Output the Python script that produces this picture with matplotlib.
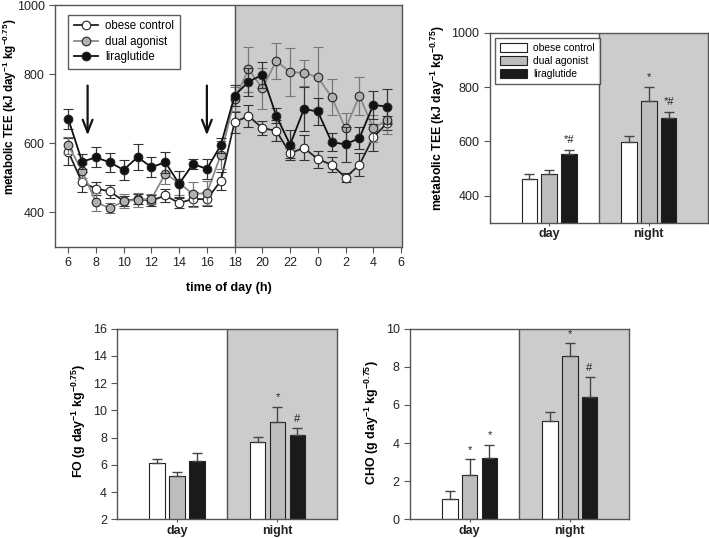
import matplotlib

matplotlib.use("Agg")

import matplotlib.pyplot as plt  # noqa: E402
import numpy as np  # noqa: E402
from matplotlib.lines import Line2D  # noqa: E402

plt.rcParams["font.family"] = ["Liberation Sans", "DejaVu Sans"]
plt.rcParams["mathtext.fontset"] = "custom"
plt.rcParams["mathtext.rm"] = "Liberation Sans:bold"
plt.rcParams["mathtext.default"] = "rm"

# ---------------------------------------------------------------------------
# Data
# ---------------------------------------------------------------------------

groups = ["obese control", "dual agonist", "liraglutide"]
hours = list(range(6, 30))  # 6 .. 29 (=5 next day)

tee_control = [576, 487, 469, 461, 433, 439, 434, 449, 427, 439, 438, 491,
               661, 679, 644, 636, 571, 587, 554, 538, 501, 538, 617, 659]
tee_control_err = [40, 29, 20, 18, 15, 15, 15, 20, 15, 20, 20, 25,
                   30, 31, 20, 30, 15, 36, 25, 22, 12, 34, 40, 20]
tee_dual = [594, 521, 430, 412, 432, 437, 439, 512, 485, 453, 456, 566,
            727, 814, 759, 838, 806, 804, 791, 733, 643, 737, 643, 668]
tee_dual_err = [25, 20, 25, 15, 20, 20, 15, 30, 35, 36, 34, 40,
                35, 65, 60, 51, 70, 38, 88, 52, 46, 54, 40, 40]
tee_lira = [671, 547, 559, 545, 523, 560, 531, 545, 483, 540, 526, 594,
            738, 778, 798, 680, 596, 699, 692, 603, 597, 615, 711, 706]
tee_lira_err = [29, 22, 29, 28, 29, 37, 28, 31, 38, 15, 29, 21,
                30, 40, 38, 21, 43, 63, 38, 26, 51, 32, 41, 51]

hour_ticks = [6, 8, 10, 12, 14, 16, 18, 20, 22, 24, 26, 28, 30]
hour_labels = ["6", "8", "10", "12", "14", "16", "18", "20", "22", "0", "2", "4", "6"]
arrow_hours = [7.4, 16]

periods = ["day", "night"]
tee_bar = {"obese control": [461, 597], "dual agonist": [478, 750], "liraglutide": [552, 685]}
tee_bar_err = {"obese control": [18, 21], "dual agonist": [18, 51], "liraglutide": [17, 24]}
tee_marks = {("liraglutide", 0): "*#", ("dual agonist", 1): "*", ("liraglutide", 1): "*#"}

fo_bar = {"obese control": [6.11, 7.65], "dual agonist": [5.18, 9.17], "liraglutide": [6.26, 8.17]}
fo_bar_err = {"obese control": [0.32, 0.39], "dual agonist": [0.27, 1.08], "liraglutide": [0.58, 0.51]}
fo_marks = {("dual agonist", 1): "*", ("liraglutide", 1): "#"}

cho_bar = {"obese control": [1.05, 5.16], "dual agonist": [2.33, 8.58], "liraglutide": [3.22, 6.40]}
cho_bar_err = {"obese control": [0.44, 0.45], "dual agonist": [0.82, 0.65], "liraglutide": [0.68, 1.05]}
cho_marks = {("dual agonist", 0): "*", ("liraglutide", 0): "*",
             ("dual agonist", 1): "*", ("liraglutide", 1): "#"}

# ---------------------------------------------------------------------------
# Styles
# ---------------------------------------------------------------------------

NIGHT_BG = "#cccccc"
SPINE = "#555555"
bar_colors = {"obese control": "white", "dual agonist": "#bdbdbd", "liraglutide": "#1a1a1a"}
line_styles = {
    "obese control": dict(mfc="white", color="#222222", ecolor="#333333"),
    "dual agonist": dict(mfc="#b0b0b0", color="#8a8a8a", ecolor="#777777"),
    "liraglutide": dict(mfc="#111111", color="#111111", ecolor="#333333"),
}


def _style_axes(ax):
    for s in ax.spines.values():
        s.set_color(SPINE)
        s.set_linewidth(1.0)
    ax.tick_params(direction="out", length=4, color=SPINE, labelsize=9,
                   labelcolor="#222222")


def bar_panel(ax, values, errs, marks, ylim, yticks, ylabel, label_xy,
              label_size=8.5, legend=False):
    centers = np.array([0.545, 1.46])
    offsets = [-0.182, 0.0, 0.182]
    width = 0.144
    ax.axvspan(1.0, 2.0, color=NIGHT_BG, zorder=0)
    ax.axvline(1.0, color=SPINE, lw=1.0, zorder=1)
    span = ylim[1] - ylim[0]
    for g, off in zip(groups, offsets):
        ax.bar(centers + off, values[g], width, color=bar_colors[g],
               edgecolor="#222222", linewidth=0.8, label=g, zorder=2)
        ax.errorbar(centers + off, values[g], yerr=[[0, 0], errs[g]], fmt="none",
                    ecolor="#444444", elinewidth=1.0, capsize=3.5, capthick=1.0,
                    zorder=3)
        for i in range(2):
            txt = marks.get((g, i))
            if txt:
                ax.text(centers[i] + off, values[g][i] + errs[g][i] + 0.05 * span,
                        txt, ha="center", va="center", fontsize=8, color="#222222")
    ax.set_xlim(0, 2)
    ax.set_ylim(*ylim)
    ax.set_yticks(yticks)
    ax.set_xticks(centers)
    ax.set_xticklabels(periods, fontweight="bold", fontsize=9.5)
    ax.set_ylabel(ylabel, fontsize=label_size, fontweight="bold")
    ax.yaxis.set_label_coords(*label_xy)
    _style_axes(ax)
    ax.tick_params(axis="x", length=2.5, pad=1.5)
    if legend:
        ax.legend(loc="upper left", fontsize=7.4, frameon=True, fancybox=False,
                  edgecolor="#333333", borderpad=0.5, handlelength=2.6,
                  handleheight=1.0, labelspacing=0.3, handletextpad=0.6,
                  borderaxespad=0.0, bbox_to_anchor=(0.025, 0.975))


fig = plt.figure(figsize=(7.09, 5.38), dpi=100)

# ---------------------------------------------------------------------------
# Time course
# ---------------------------------------------------------------------------

ax = fig.add_axes([0.0776, 0.5409, 0.4894, 0.4498])
ax.axvspan(18, 30.1, color=NIGHT_BG, zorder=0)
ax.axvline(18, color=SPINE, lw=1.0, zorder=1)
series = [(tee_control, tee_control_err), (tee_dual, tee_dual_err), (tee_lira, tee_lira_err)]
order = [1, 0, 2]
for k in order:
    g = groups[k]
    y, e = series[k]
    st = line_styles[g]
    ax.errorbar(hours, y, yerr=e, fmt="-o", color=st["color"], mfc=st["mfc"],
                mec="#222222", mew=0.8, ms=6.2, lw=1.3, ecolor=st["ecolor"],
                elinewidth=0.9, capsize=3.5, capthick=0.9, zorder=3 + k)
for h in arrow_hours:
    ax.annotate("", xy=(h, 615), xytext=(h, 775),
                arrowprops=dict(arrowstyle="->,head_length=0.9,head_width=0.35",
                                lw=1.6, color="#111111"))
ax.set_xlim(5.05, 30.07)
ax.set_ylim(300, 1000)
ax.set_yticks([400, 600, 800, 1000])
ax.set_xticks(hour_ticks)
ax.set_xticklabels(hour_labels)
ax.set_xlabel("time of day (h)", fontsize=9, fontweight="bold")
ax.xaxis.set_label_coords(0.5, -0.145)
ax.set_ylabel("metabolic TEE (kJ day$^{-1}$ kg$^{-0.75}$)", fontsize=8.4, fontweight="bold")
ax.yaxis.set_label_coords(-0.105, 0.579)
_style_axes(ax)
legend_handles = [
    Line2D([], [], color=line_styles[g]["color"], marker="o", mfc=line_styles[g]["mfc"],
           mec="#222222", mew=0.8, ms=6.2, lw=1.3)
    for g in groups
]
ax.legend(legend_handles, groups, loc="upper left", fontsize=8.3,
          frameon=True, fancybox=False, edgecolor="#333333",
          bbox_to_anchor=(0.038, 0.96), borderaxespad=0.0, borderpad=0.5,
          labelspacing=0.3, handlelength=2.1, handletextpad=0.6)

# ---------------------------------------------------------------------------
# Bar panels
# ---------------------------------------------------------------------------

ax = fig.add_axes([0.691, 0.586, 0.307, 0.353])
bar_panel(ax, tee_bar, tee_bar_err, tee_marks, (300, 1000), [400, 600, 800, 1000],
          "metabolic TEE (kJ day$^{-1}$ kg$^{-0.75}$)", (-0.198, 0.551),
          label_size=8.8, legend=True)

ax = fig.add_axes([0.1655, 0.0348, 0.3094, 0.3542])
bar_panel(ax, fo_bar, fo_bar_err, fo_marks, (2, 16), list(range(2, 17, 2)),
          "FO (g day$^{-1}$ kg$^{-0.75}$)", (-0.134, 0.516), label_size=9)

ax = fig.add_axes([0.5783, 0.0348, 0.3084, 0.3542])
bar_panel(ax, cho_bar, cho_bar_err, cho_marks, (0, 10), list(range(0, 11, 2)),
          "CHO (g day$^{-1}$ kg$^{-0.75}$)", (-0.133, 0.505), label_size=9)

fig.savefig("out.png", dpi=100)
plt.close(fig)
